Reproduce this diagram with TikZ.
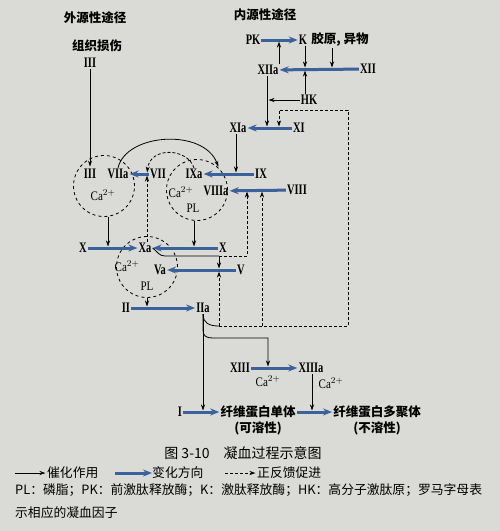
\documentclass[tikz,border=0pt]{standalone}
\usepackage{fontspec}
\setmainfont{Liberation Serif}
\newfontfamily\cjk{Noto Sans CJK SC}
\newfontfamily\rmn[FakeStretch=0.72]{Liberation Serif}
\newfontfamily\ionfont[FakeStretch=0.85]{Liberation Serif}
\usetikzlibrary{arrows.meta,positioning}
\definecolor{paper}{RGB}{218,218,214}
\definecolor{flow}{RGB}{58,98,155}

\begin{document}
\begin{tikzpicture}[
  x=1pt, y=-1pt,
  num/.style={font=\rmn\bfseries\fontsize{14.5}{16}\selectfont, inner sep=1pt},
  ion/.style={font=\ionfont\fontsize{13}{15}\selectfont, inner sep=1pt},
  zh/.style={font=\cjk\fontsize{12.5}{15}\selectfont, inner sep=1pt},
  head/.style={font=\cjk\bfseries\fontsize{12.5}{15}\selectfont, inner sep=1pt},
  note/.style={font=\cjk\fontsize{12.8}{16}\selectfont, inner sep=0pt, anchor=west},
  site/.style={draw=black, dashed, circle, minimum size=61pt, line width=0.8pt},
  change/.style={draw=flow, line width=3pt, -{Stealth[length=9pt,width=7pt]}},
  cat/.style={draw=black, line width=0.8pt, shorten >=1.5pt,
              -{Stealth[length=6pt,width=4pt]}},
  feed/.style={draw=black, line width=0.8pt, dash pattern=on 3pt off 2pt,
               shorten >=1.5pt, -{Stealth[length=6pt,width=4pt]}},
  wire/.style={draw=black, line width=0.8pt},
]
  \fill[paper] (0,0) rectangle (500,531);
  \useasboundingbox (0,0) rectangle (500,531);

  \node[head] (exo) at (95,18) {外源性途径};
  \node[head] (tissue) at (97,46) {组织损伤};
  \node[num] (iiiTop) at (90,63) {III};
  \node[head] (endo) at (265,15) {内源性途径};
  \node[num] (pk) at (253,40) {PK};
  \node[num] (k) at (303,40) {K};
  \node[head, right=2pt of k] (foreign) {胶原, 异物};
  \node[num] (xiia) at (268,70) {XIIa};
  \node[num] (xii) at (368,69) {XII};
  \node[num] (hk) at (309,100) {HK};
  \node[num] (xia) at (238,128) {XIa};
  \node[num] (xi) at (299,128) {XI};

  \node[site] (s7) at (104,186) {};
  \node[site] (s9) at (197,190) {};
  \node[site] (s10) at (147,267) {};

  \node[num] (iii) at (90,174) {III};
  \node[num] (viia) at (118,174) {VIIa};
  \node[ion] (ca7) at (103,195) {Ca$^{2+}$};
  \node[num] (vii) at (158,174) {VII};
  \node[num] (ixa) at (194,174) {IXa};
  \node[ion] (ca9) at (181,192) {Ca$^{2+}$};
  \node[num] (viiia) at (216,191) {VIIIa};
  \node[ion] (pl9) at (193,208) {PL};
  \node[num] (ix) at (261,174) {IX};
  \node[num] (viii) at (297,190) {VIII};
  \node[num] (xl) at (83,248) {X};
  \node[num] (xa) at (145,248) {Xa};
  \node[num] (xr) at (223,248) {X};
  \node[ion] (ca10) at (127,266) {Ca$^{2+}$};
  \node[num] (va) at (160,270) {Va};
  \node[ion] (pl10) at (147,286) {PL};
  \node[num] (v) at (241,270) {V};
  \node[num] (ii) at (126,308) {II};
  \node[num] (iia) at (203,308) {IIa};
  \node[num] (xiii) at (240,368) {XIII};
  \node[num] (xiiia) at (311,368) {XIIIa};
  \node[ion] (ca13) at (268,381) {Ca$^{2+}$};
  \node[ion] (ca13a) at (331,383) {Ca$^{2+}$};
  \node[num] (fi) at (180,412) {I};
  \node[head] (mono) at (258,412) {纤维蛋白单体};
  \node[head, below=1pt of mono] (monoSol) {(可溶性)};
  \node[head] (poly) at (377,412) {纤维蛋白多聚体};
  \node[head, below=1pt of poly] (polyIns) {(不溶性)};

  \node[zh, font=\cjk\fontsize{14}{16}\selectfont] (caption) at (243,453)
       {图 3-10\quad 凝血过程示意图};
  \node[note] (lgCat) at (47,473) {催化作用};
  \node[note] (lgFlow) at (152,473) {变化方向};
  \node[note] (lgFeed) at (257,473) {正反馈促进};
  \node[note] (key1) at (15,490)
       {PL：磷脂；PK：前激肽释放酶；K：激肽释放酶；HK：高分子激肽原；罗马字母表};
  \node[note] (key2) at (15,513) {示相应的凝血因子};

  \coordinate (onPK) at (279,40);
  \coordinate (onXIIk) at (305,69);
  \coordinate (onXIIc) at (332,69);
  \coordinate (onXI) at (267,128);
  \coordinate (onXIfb) at (279,128);
  \coordinate (on7) at (147,174);
  \coordinate (onIX) at (236,174);
  \coordinate (onVIIIa) at (247,190);
  \coordinate (onVIIIb) at (262,190);
  \coordinate (onXl) at (108,248);
  \coordinate (onXr) at (194,248);
  \coordinate (onV) at (219,270);
  \coordinate (onII) at (147,308);
  \coordinate (onXIII) at (268,368);
  \coordinate (onMono) at (203,412);
  \coordinate (onPoly) at (312,412);
  \coordinate (xaBend) at (219,256);
  \coordinate (xaTurn) at (247,256);
  \coordinate (iiaBend) at (219,326);
  \coordinate (fbCorner) at (348,326);
  \coordinate (fbTop) at (348,110);
  \coordinate (fbLeft) at (279,110);
  \coordinate (feedXIII) at (268,338);
  \coordinate (lgA) at (15,473);
  \coordinate (lgB) at (115,473);
  \coordinate (lgC) at (225,473);

  \draw[change] (pk) -- (k);
  \draw[change] (xii) -- (xiia);
  \draw[change] (xi) -- (xia);
  \draw[change] (vii) -- (viia);
  \draw[change] (ix) -- (ixa);
  \draw[change] (viii) -- (viiia);
  \draw[change] (xl) -- (xa);
  \draw[change] (xr) -- (xa);
  \draw[change] (v) -- (va);
  \draw[change] (ii) -- (iia);
  \draw[change] (xiii) -- (xiiia);
  \draw[change] (fi) -- (mono);
  \draw[change] (mono) -- (poly);

  \draw[cat] (xiia.north -| onPK) -- (onPK);
  \draw[cat] (k.south -| onXIIk) -- (onXIIk);
  \draw[cat] (foreign.south -| onXIIc) -- (onXIIc);
  \draw[cat] (hk.north -| onXIIk) -- (onXIIk);
  \draw[cat] (hk.west) -- (hk.west -| onXI);
  \draw[cat] (xiia.south -| onXI) -- (onXI);
  \draw[cat] (xia.south -| onIX) -- (onIX);
  \draw[cat] (iiiTop) -- (iii);
  \draw[cat] (viia.north) .. controls (126,133) and (204,128) .. (s9.north east);
  \draw[cat] (s7.south -| onXl) -- (onXl);
  \draw[cat] (s9.south -| onXr) -- (onXr);
  \draw[cat] (s10.south) -- (onII);
  \draw[wire] (xa.east) .. controls (158,252) and (159,256) .. (165,256) -- (xaBend);
  \draw[cat] (xaBend) -- (onV);
  \draw[cat] (iia.south) -- (onMono);
  \draw[cat] (iia.south) -- (203,330) .. controls (203,336) and (206,338) .. (213,338)
    -- (feedXIII) -- (onXIII);
  \draw[cat] (xiiia.south -| onPoly) -- (onPoly);

  \draw[feed] (ixa.north) .. controls (188,148) and (150,146) .. (on7);
  \draw[feed] (xa.north -| on7) -- (on7);
  \draw[feed] (xaBend) -- (xaTurn) -- (onVIIIa);
  \draw[wire] (iia.south) .. controls (203,323) and (209,326) .. (iiaBend);
  \draw[feed] (iiaBend) -- (fbCorner) -- (fbTop) -- (fbLeft) -- (onXIfb);
  \draw[feed] (iiaBend) -- (onV);
  \draw[feed] (iiaBend -| onVIIIb) -- (onVIIIb);

  \draw[cat] (lgA) -- (lgCat.west);
  \draw[change] (lgB) -- (lgFlow.west);
  \draw[feed] (lgC) -- (lgFeed.west);
\end{tikzpicture}
\end{document}
